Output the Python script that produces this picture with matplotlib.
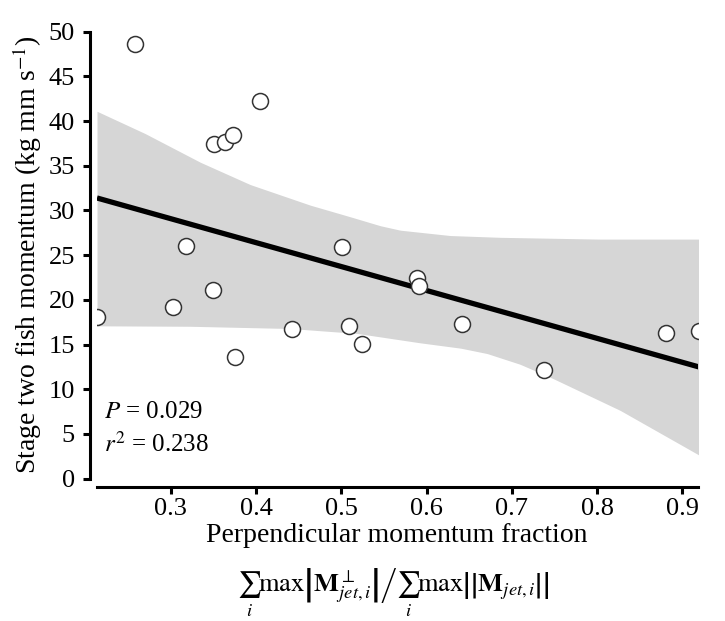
import matplotlib
matplotlib.use("Agg")
import matplotlib.pyplot as plt
import numpy as np

plt.rcParams['font.family'] = ['Liberation Serif', 'DejaVu Serif']
plt.rcParams['mathtext.fontset'] = 'stix'

# scatter points
frac = [0.2135, 0.2584, 0.3021, 0.3182, 0.3490, 0.3510, 0.3630, 0.3729, 0.3748, 0.4049,
        0.4427, 0.5013, 0.5092, 0.5244, 0.5892, 0.5912, 0.6420, 0.7377, 0.8811, 0.9193]
momentum = [18.1, 48.6, 19.2, 26.0, 21.1, 37.4, 37.7, 38.4, 13.6, 42.2,
            16.8, 25.9, 17.1, 15.1, 22.5, 21.5, 17.3, 12.2, 16.3, 16.5]

# regression line end points
fit_x = [0.2135, 0.9193]
fit_y = [31.4, 12.5]

# confidence band edges
band_up_x = [0.2135, 0.2701, 0.3346, 0.3932, 0.4635, 0.5104, 0.5456, 0.5690, 0.6276, 0.6862, 0.8034, 0.9193]
band_up_y = [41.1, 38.6, 35.4, 32.9, 30.6, 29.3, 28.3, 27.8, 27.2, 27.0, 26.8, 26.8]
band_lo_x = [0.2135, 0.3228, 0.4400, 0.5185, 0.5924, 0.6400, 0.6709, 0.7096, 0.7483, 0.8268, 0.9193]
band_lo_y = [17.1, 17.05, 16.8, 16.25, 15.2, 14.6, 14.0, 12.8, 11.2, 7.65, 2.65]

xticks = [0.3, 0.4, 0.5, 0.6, 0.7, 0.8, 0.9]
yticks = list(range(0, 51, 5))

fig = plt.figure(figsize=(7.25, 6.21), dpi=100)
ax = fig.add_axes([97 / 725, 1 - 478.7 / 621, (698 - 97) / 725, (478.7 - 31.7) / 621])

xs = np.linspace(min(frac), max(frac), 300)
ax.fill_between(xs, np.interp(xs, band_lo_x, band_lo_y), np.interp(xs, band_up_x, band_up_y),
                color='#d6d6d6', lw=0, zorder=1)
ax.plot(fit_x, fit_y, color='black', lw=3.8, solid_capstyle='butt', zorder=2)
ax.plot(frac, momentum, 'o', ms=11.5, mfc='white', mec='#333333', mew=1.1, zorder=3)

ax.set_xlim(min(frac), 0.9182)
ax.set_ylim(0, 50)
ax.set_xticks(xticks)
ax.set_xticklabels([f'{t:.1f}' for t in xticks])
ax.set_yticks(yticks)

for s in ['top', 'right']:
    ax.spines[s].set_visible(False)
ax.spines['left'].set_position(('outward', 5))
ax.spines['bottom'].set_position(('outward', 6))
for s in ['left', 'bottom']:
    ax.spines[s].set_linewidth(2.2)
ax.tick_params(width=2.2, length=5, labelsize=19, pad=3)
ax.tick_params(axis='y', pad=6)

ax.set_ylabel('Stage two fish momentum (kg mm s$^{-1}$)', fontsize=20, labelpad=3)
ax.text(0.012, 0.135, '$P$ = 0.029', transform=ax.transAxes, fontsize=18)
ax.text(0.012, 0.06, '$r^2$ = 0.238', transform=ax.transAxes, fontsize=18)

fig.text(0.547, 1 - 536 / 621, 'Perpendicular momentum fraction', fontsize=20,
         ha='center', va='center')
fig.text(0.542, 1 - 593 / 621,
         r'$\sum_i \mathrm{max}\left.\left|\mathbf{M}^{\perp}_{jet,i}\right|\right/'
         r'\sum_i \mathrm{max}\left|\left|\mathbf{M}_{jet,i}\right|\right|$',
         fontsize=19, ha='center', va='center')

fig.savefig('out.png', dpi=100)
